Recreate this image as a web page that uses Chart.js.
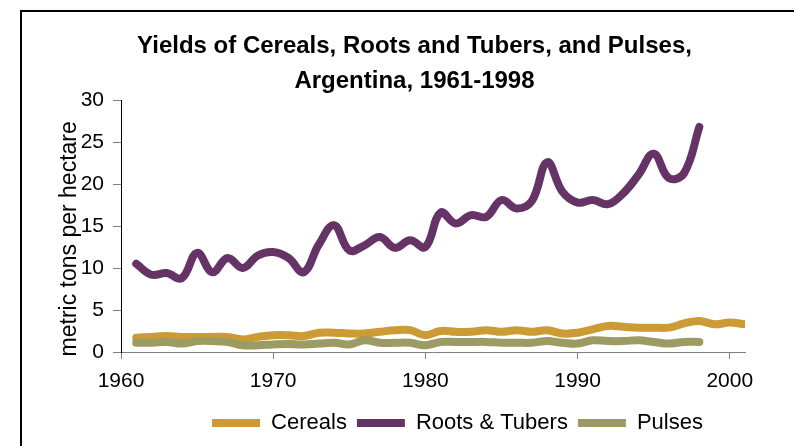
<!DOCTYPE html>
<html>
<head>
<meta charset="utf-8">
<title>Yields of Cereals, Roots and Tubers, and Pulses, Argentina, 1961-1998</title>
<script src="https://cdn.jsdelivr.net/npm/chart.js@4.4.1/dist/chart.umd.min.js"></script>
<style>
  html, body { margin: 0; padding: 0; background: #fff; overflow: hidden; }
  #wrap { position: relative; width: 794px; height: 446px; }
  #frame {
    position: absolute; left: 20px; top: 10px; width: 800px; height: 460px;
    border-left: 2px solid #000; border-top: 2px solid #000;
  }
  #yieldChart { position: absolute; left: 0; top: 0; }
</style>
</head>
<body>
<div id="wrap">
  <div id="frame"></div>
  <canvas id="yieldChart" width="794" height="446"></canvas>
</div>
<script>
// Years on the x axis
const years = [1961, 1962, 1963, 1964, 1965, 1966, 1967, 1968, 1969, 1970,
  1971, 1972, 1973, 1974, 1975, 1976, 1977, 1978, 1979, 1980,
  1981, 1982, 1983, 1984, 1985, 1986, 1987, 1988, 1989, 1990,
  1991, 1992, 1993, 1994, 1995, 1996, 1997, 1998, 1999, 2000, 2001];

// Yields, metric tons per hectare
const cereals = [1.7, 1.8, 1.9, 1.8, 1.8, 1.8, 1.8, 1.5, 1.8, 2.0,
  2.0, 1.9, 2.3, 2.3, 2.2, 2.2, 2.4, 2.6, 2.6, 2.0,
  2.5, 2.4, 2.4, 2.6, 2.4, 2.6, 2.4, 2.6, 2.2, 2.3,
  2.7, 3.1, 3.0, 2.9, 2.9, 2.9, 3.4, 3.7, 3.3, 3.5, 3.3];
const rootsTubers = [10.5, 9.2, 9.4, 8.8, 11.8, 9.5, 11.2, 10.0, 11.5, 11.9,
  11.2, 9.5, 12.8, 15.1, 12.1, 12.7, 13.7, 12.4, 13.3, 12.5,
  16.6, 15.3, 16.3, 16.1, 18.1, 17.1, 18.0, 22.6, 19.1, 17.8,
  18.1, 17.6, 18.9, 21.1, 23.6, 20.7, 21.3, 26.8];
const pulses = [1.1, 1.1, 1.2, 1.0, 1.3, 1.3, 1.2, 0.8, 0.8, 0.9,
  0.95, 0.9, 1.0, 1.1, 0.9, 1.4, 1.1, 1.1, 1.1, 0.8,
  1.2, 1.2, 1.2, 1.2, 1.1, 1.1, 1.1, 1.3, 1.1, 1.0,
  1.4, 1.3, 1.3, 1.4, 1.2, 1.0, 1.2, 1.2];

const xTicks = [1960, 1970, 1980, 1990, 2000];
const yTicks = [0, 5, 10, 15, 20, 25, 30];

const toPoints = (vals) => vals.map((v, i) => ({ x: years[i], y: v }));

const lineStyle = {
  borderWidth: 8,
  pointRadius: 0,
  tension: 0.4,
  fill: false,
  borderCapStyle: "round",
  borderJoinStyle: "round",
};

const yieldData = {
  datasets: [
    { label: "Cereals", data: toPoints(cereals), borderColor: "#CD9B35", backgroundColor: "#CD9B35", order: 1, ...lineStyle },
    { label: "Roots & Tubers", data: toPoints(rootsTubers), borderColor: "#663366", backgroundColor: "#663366", order: 2, ...lineStyle },
    { label: "Pulses", data: toPoints(pulses), borderColor: "#9C9B64", backgroundColor: "#9C9B64", order: 0, ...lineStyle },
  ],
};

// nudge the legend and title to where the original sits
const boxShift = {
  id: "boxShift",
  afterLayout(chart) {
    chart.legend.left += 60;
    chart.legend.right += 60;
    chart.titleBlock.left += 17;
    chart.titleBlock.right += 17;
  },
};

const font = "'Liberation Sans', Arial, sans-serif";

new Chart(document.getElementById("yieldChart").getContext("2d"), {
  type: "line",
  data: yieldData,
  plugins: [boxShift],
  options: {
    responsive: false,
    animation: false,
    layout: { padding: { left: 50, right: 49, top: 11, bottom: 2 } },
    plugins: {
      title: {
        display: true,
        text: ["Yields of Cereals, Roots and Tubers, and Pulses,", "Argentina, 1961-1998"],
        color: "#000",
        font: { family: font, size: 24, weight: "bold", lineHeight: 1.46 },
        padding: { top: 18, bottom: 1 },
      },
      legend: {
        position: "bottom",
        labels: {
          color: "#000",
          font: { family: font, size: 22 },
          usePointStyle: true,
          pointStyle: "line",
          pointStyleWidth: 48,
          padding: 10,
          sort: (a, b) => a.datasetIndex - b.datasetIndex,
        },
      },
      tooltip: { enabled: false },
    },
    scales: {
      x: {
        type: "linear",
        min: 1960,
        max: 2001,
        afterBuildTicks: (scale) => { scale.ticks = xTicks.map((v) => ({ value: v })); },
        afterFit: (scale) => { scale.height = 50; },
        grid: { drawOnChartArea: false, drawTicks: true, tickLength: 7, color: "#808080" },
        border: { color: "#808080", width: 1 },
        ticks: {
          color: "#000",
          font: { family: font, size: 21 },
          padding: 10,
          maxRotation: 0,
          autoSkip: false,
          callback: (v) => String(v),
        },
      },
      y: {
        min: 0,
        max: 30,
        afterBuildTicks: (scale) => { scale.ticks = yTicks.map((v) => ({ value: v })); },
        afterFit: (scale) => { scale.width = 71; },
        grid: { drawOnChartArea: false, drawTicks: true, tickLength: 8, color: "#808080" },
        border: { color: "#000", width: 1 },
        ticks: { color: "#000", font: { family: font, size: 21 }, padding: 9 },
        title: {
          display: true,
          text: "metric tons per hectare    ",
          color: "#000",
          font: { family: font, size: 23 },
          padding: { top: 6, bottom: 0 },
        },
      },
    },
  },
});
</script>
</body>
</html>
